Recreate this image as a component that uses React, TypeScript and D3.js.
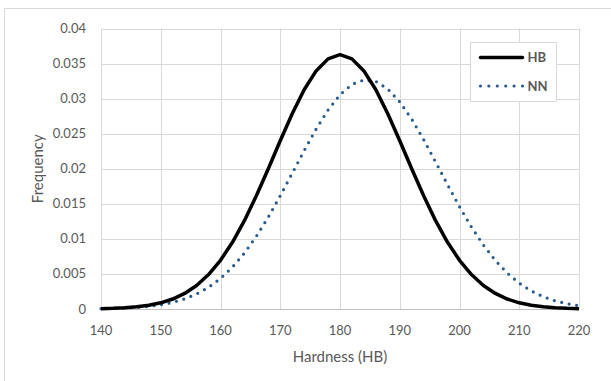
import React, { useEffect, useRef } from 'react';
import * as d3 from 'd3';

// Hardness values (HB), sampled every 2 units
const hardness = [
  140, 142, 144, 146, 148, 150, 152, 154, 156, 158, 160, 162, 164, 166, 168, 170, 172, 174, 176, 178,
  180, 182, 184, 186, 188, 190, 192, 194, 196, 198, 200, 202, 204, 206, 208, 210, 212, 214, 216, 218, 220,
];

// Frequency of the HB series (solid black)
const hbFreq = [
  0.00005, 0.00009, 0.00017, 0.00031, 0.00053, 0.00088, 0.00142, 0.00222, 0.00336, 0.00491,
  0.00695, 0.00951, 0.01259, 0.01614, 0.02000, 0.02399, 0.02784, 0.03126, 0.03395, 0.03567,
  0.03627, 0.03567, 0.03395, 0.03126, 0.02784, 0.02399, 0.02000, 0.01614, 0.01259, 0.00951,
  0.00695, 0.00491, 0.00336, 0.00222, 0.00142, 0.00088, 0.00053, 0.00031, 0.00017, 0.00009,
  0.00005,
];

// Frequency of the NN series (dotted blue)
const nnFreq = [
  0.00004, 0.00008, 0.00013, 0.00023, 0.00037, 0.00060, 0.00094, 0.00144, 0.00214, 0.00309,
  0.00435, 0.00597, 0.00797, 0.01036, 0.01310, 0.01614, 0.01935, 0.02258, 0.02565, 0.02837,
  0.03055, 0.03202, 0.03267, 0.03245, 0.03138, 0.02954, 0.02707, 0.02415, 0.02097, 0.01773,
  0.01459, 0.01169, 0.00912, 0.00692, 0.00512, 0.00368, 0.00258, 0.00176, 0.00117, 0.00075,
  0.00047,
];

const xTicks = [140, 150, 160, 170, 180, 190, 200, 210, 220];
const yTicks = [0, 0.005, 0.01, 0.015, 0.02, 0.025, 0.03, 0.035, 0.04];
const yTickLabels = ['0', '0.005', '0.01', '0.015', '0.02', '0.025', '0.03', '0.035', '0.04'];

const seriesNames = ['HB', 'NN'];

const App = () => {
  const svgRef = useRef(null);

  useEffect(() => {
    document.body.style.margin = '0';

    const width = 611;
    const height = 381;
    const marginLeft = 101;
    const marginRight = 32;
    const marginTop = 28.5;
    const marginBottom = 72;
    const font = 'Lato, "Open Sans", sans-serif';
    const textColor = '#595959';

    const svg = d3.select(svgRef.current)
      .attr('width', width)
      .attr('height', height)
      .attr('viewBox', `0 0 ${width} ${height}`)
      .style('display', 'block');

    svg.selectAll('*').remove();

    // background + chart border
    svg.append('rect')
      .attr('width', width)
      .attr('height', height)
      .attr('fill', '#fff');
    svg.append('rect')
      .attr('x', 4.5)
      .attr('y', 8.5)
      .attr('width', width + 10)
      .attr('height', height + 10)
      .attr('fill', 'none')
      .attr('stroke', '#d9d9d9');

    const x = d3.scaleLinear()
      .domain([140, 220])
      .range([marginLeft, width - marginRight]);

    const y = d3.scaleLinear()
      .domain([0, 0.04])
      .range([height - marginBottom, marginTop]);

    // Gridlines
    const grid = svg.append('g').attr('stroke', '#d9d9d9').attr('stroke-width', 1);
    grid.selectAll('line.h')
      .data(yTicks)
      .join('line')
      .attr('class', 'h')
      .attr('x1', marginLeft)
      .attr('x2', width - marginRight)
      .attr('y1', d => Math.round(y(d)) + 0.5)
      .attr('y2', d => Math.round(y(d)) + 0.5)
      .attr('stroke', d => (d === 0 ? '#bfbfbf' : '#d9d9d9'));
    grid.selectAll('line.v')
      .data(xTicks)
      .join('line')
      .attr('class', 'v')
      .attr('x1', d => Math.round(x(d)) + 0.5)
      .attr('x2', d => Math.round(x(d)) + 0.5)
      .attr('y1', marginTop)
      .attr('y2', height - marginBottom);

    // Y tick labels
    svg.append('g')
      .selectAll('text')
      .data(yTicks)
      .join('text')
      .attr('x', marginLeft - 15)
      .attr('y', d => y(d))
      .attr('dy', '0.35em')
      .attr('text-anchor', 'end')
      .attr('fill', textColor)
      .attr('font-family', font)
      .attr('font-size', 13)
      .text((d, i) => yTickLabels[i]);

    // X tick labels
    svg.append('g')
      .selectAll('text')
      .data(xTicks)
      .join('text')
      .attr('x', d => x(d))
      .attr('y', height - marginBottom + 26)
      .attr('text-anchor', 'middle')
      .attr('fill', textColor)
      .attr('font-family', font)
      .attr('font-size', 13)
      .text(d => d);

    // Axis titles
    svg.append('text')
      .attr('x', (marginLeft + width - marginRight) / 2)
      .attr('y', 362)
      .attr('text-anchor', 'middle')
      .attr('fill', textColor)
      .attr('font-family', font)
      .attr('font-size', 15)
      .text('Hardness (HB)');

    svg.append('text')
      .attr('transform', `translate(43, ${(marginTop + height - marginBottom) / 2}) rotate(-90)`)
      .attr('text-anchor', 'middle')
      .attr('fill', textColor)
      .attr('font-family', font)
      .attr('font-size', 15)
      .text('Frequency');

    const line = d3.line()
      .x(d => x(d[0]))
      .y(d => y(d[1]));

    const hbData = hardness.map((h, i) => [h, hbFreq[i]]);
    const nnData = hardness.map((h, i) => [h, nnFreq[i]]);

    const styles = [
      { stroke: '#000000', width: 3.5, dash: null, cap: 'round' },
      { stroke: '#2a5a8e', width: 3.2, dash: '0 7.6', cap: 'round' },
    ];

    svg.append('path')
      .datum(nnData)
      .attr('fill', 'none')
      .attr('stroke', styles[1].stroke)
      .attr('stroke-width', styles[1].width)
      .attr('stroke-linecap', 'round')
      .attr('stroke-dasharray', styles[1].dash)
      .attr('d', line);

    svg.append('path')
      .datum(hbData)
      .attr('fill', 'none')
      .attr('stroke', styles[0].stroke)
      .attr('stroke-width', styles[0].width)
      .attr('stroke-linejoin', 'round')
      .attr('d', line);

    // Legend
    const legend = svg.append('g').attr('transform', 'translate(470.5, 42.5)');
    legend.append('rect')
      .attr('width', 86)
      .attr('height', 59)
      .attr('fill', '#fff')
      .attr('stroke', '#d9d9d9');

    seriesNames.forEach((name, i) => {
      const ly = 15 + i * 28.5;
      const s = styles[i];
      legend.append('line')
        .attr('x1', 10)
        .attr('x2', 52)
        .attr('y1', ly)
        .attr('y2', ly)
        .attr('stroke', s.stroke)
        .attr('stroke-width', s.width)
        .attr('stroke-linecap', 'round')
        .attr('stroke-dasharray', i === 1 ? '0 8.4' : null);
      legend.append('text')
        .attr('x', 57)
        .attr('y', ly)
        .attr('dy', '0.35em')
        .attr('fill', textColor)
        .attr('font-family', font)
        .attr('font-weight', 'bold')
        .attr('font-size', 13)
        .text(name);
    });
  }, []);

  return <svg ref={svgRef}></svg>;
};

export default App;
